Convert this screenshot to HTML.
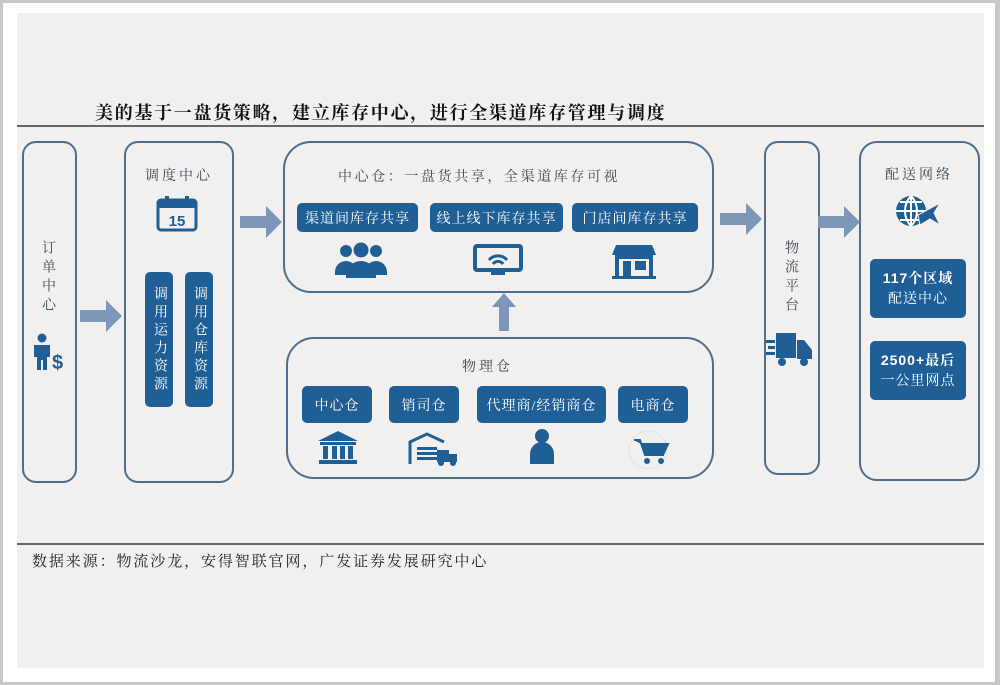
<!DOCTYPE html>
<html><head><meta charset="utf-8"><style>
*{margin:0;padding:0;box-sizing:border-box}
body{width:1000px;height:685px;background:#fff;position:relative;overflow:hidden;font-family:"Liberation Serif","Noto Serif CJK SC",serif}
.frame{position:absolute;left:0;top:0;width:1000px;height:685px;border:3px solid #c8c8c8;border-right-width:5px}
.panel{position:absolute;left:17px;top:13px;width:967px;height:655px;background:#f1f0ee}
.a{position:absolute}
.box{position:absolute;border:2px solid #4f6d8d;border-radius:14px}
.btn{position:absolute;background:#1f5f96;color:#fff;border-radius:5px;font-size:14px;display:flex;align-items:center;justify-content:center;font-weight:bold;letter-spacing:1px}
.v{writing-mode:vertical-rl;letter-spacing:4px}
.t{position:absolute;color:#3a4a5c;font-size:14px;letter-spacing:2px}
</style></head><body>
<div class="frame"></div>
<div class="panel"></div>
<div class="t" style="left:95px;top:99px;font-size:18px;font-weight:bold;color:#111;letter-spacing:1.7px">美的基于一盘货策略，建立库存中心，进行全渠道库存管理与调度</div>
<div class="a" style="left:17px;top:125px;width:967px;height:2px;background:#666"></div>
<div class="a" style="left:17px;top:543px;width:967px;height:2px;background:#666"></div>
<div class="t" style="left:32px;top:550px;color:#222;font-size:15px;letter-spacing:1.9px">数据来源：物流沙龙，安得智联官网，广发证券发展研究中心</div>

<div class="box" style="left:22px;top:141px;width:55px;height:342px"></div>
<div class="t v" style="left:37px;top:240px;letter-spacing:5px">订单中心</div>
<svg class="a" style="left:30px;top:333px" width="40" height="40"><circle cx="12" cy="5" r="4.5" fill="#1f5f96"/><path d="M4 12h16v12h-3v13h-4v-10h-2v10h-4V24H4z" fill="#1f5f96"/><text x="22" y="36" font-size="20" font-weight="bold" fill="#1f5f96" font-family="Liberation Sans">$</text></svg>

<div class="box" style="left:124px;top:141px;width:110px;height:342px"></div>
<div class="t" style="left:145px;top:165px;letter-spacing:3px">调度中心</div>
<svg class="a" style="left:156px;top:195px" width="42" height="38"><rect x="2" y="5" width="38" height="30" rx="3" fill="none" stroke="#1f5f96" stroke-width="3"/><rect x="2" y="5" width="38" height="8" fill="#1f5f96"/><rect x="9" y="1" width="4" height="8" fill="#1f5f96"/><rect x="29" y="1" width="4" height="8" fill="#1f5f96"/><text x="21" y="31" font-size="15" font-weight="bold" fill="#1f5f96" text-anchor="middle" font-family="Liberation Sans">15</text></svg>
<div class="btn v" style="left:145px;top:272px;width:28px;height:135px;font-weight:normal;letter-spacing:4px">调用运力资源</div>
<div class="btn v" style="left:185px;top:272px;width:28px;height:135px;font-weight:normal;letter-spacing:4px">调用仓库资源</div>

<div class="box" style="left:283px;top:141px;width:431px;height:152px;border-radius:28px"></div>
<div class="t" style="left:338px;top:166px;letter-spacing:2.6px">中心仓：一盘货共享，全渠道库存可视</div>
<div class="btn" style="left:297px;top:203px;width:121px;height:29px;font-weight:normal">渠道间库存共享</div>
<div class="btn" style="left:430px;top:203px;width:133px;height:29px;font-weight:normal">线上线下库存共享</div>
<div class="btn" style="left:572px;top:203px;width:126px;height:29px;font-weight:normal">门店间库存共享</div>
<svg class="a" style="left:335px;top:242px" width="52" height="36" fill="#1f5f96"><circle cx="11" cy="9" r="6"/><circle cx="41" cy="9" r="6"/><circle cx="26" cy="8" r="7.5"/><path d="M0 30a11 11 0 0 1 22 0v3H0zM30 30a11 11 0 0 1 22 0v3H30zM11 34a15 15 0 0 1 30 0v2H11z"/></svg>
<svg class="a" style="left:473px;top:244px" width="50" height="34"><rect x="2" y="2" width="46" height="24" rx="2" fill="none" stroke="#1f5f96" stroke-width="4"/><rect x="18" y="27" width="14" height="4" fill="#1f5f96"/><path d="M16 16a12 12 0 0 1 18 0M20 20a6 6 0 0 1 10 0" stroke="#1f5f96" stroke-width="3" fill="none"/></svg>
<svg class="a" style="left:612px;top:243px" width="44" height="36" fill="#1f5f96"><path d="M4 2h36l4 10H0z"/><rect x="3" y="12" width="38" height="4"/><rect x="3" y="16" width="4" height="18"/><rect x="37" y="16" width="4" height="18"/><rect x="11" y="18" width="8" height="16"/><rect x="23" y="18" width="11" height="9"/><rect x="0" y="33" width="44" height="3"/></svg>

<svg class="a" style="left:492px;top:293px" width="24" height="38"><path d="M12 0L24 14H17V38H7V14H0z" fill="#7c97b7"/></svg>

<div class="box" style="left:286px;top:337px;width:428px;height:142px;border-radius:28px"></div>
<div class="t" style="left:462px;top:356px;letter-spacing:3px">物理仓</div>
<div class="btn" style="left:302px;top:386px;width:70px;height:37px;font-weight:normal">中心仓</div>
<div class="btn" style="left:389px;top:386px;width:70px;height:37px;font-weight:normal">销司仓</div>
<div class="btn" style="left:477px;top:386px;width:129px;height:37px;font-weight:normal">代理商/经销商仓</div>
<div class="btn" style="left:618px;top:386px;width:70px;height:37px;font-weight:normal">电商仓</div>
<svg class="a" style="left:318px;top:431px" width="40" height="34" fill="#1f5f96"><path d="M20 0L40 10H0z"/><rect x="2" y="11" width="36" height="3"/><rect x="5" y="15" width="5" height="13"/><rect x="14" y="15" width="5" height="13"/><rect x="22" y="15" width="5" height="13"/><rect x="30" y="15" width="5" height="13"/><rect x="1" y="29" width="38" height="4"/></svg>
<svg class="a" style="left:407px;top:432px" width="52" height="36"><path d="M3 32V10L20 2l17 8" stroke="#1f5f96" stroke-width="3" fill="none"/><g fill="#1f5f96"><rect x="10" y="15" width="20" height="3"/><rect x="10" y="20" width="20" height="3"/><rect x="10" y="25" width="20" height="3"/><rect x="30" y="18" width="12" height="12"/><rect x="42" y="22" width="8" height="8"/><circle cx="34" cy="31" r="3"/><circle cx="46" cy="31" r="3"/></g></svg>
<svg class="a" style="left:528px;top:428px" width="28" height="38" fill="#1f5f96"><circle cx="14" cy="8" r="7"/><path d="M2 26a12 12 0 0 1 24 0v10H2z"/></svg>
<svg class="a" style="left:628px;top:430px" width="44" height="40"><circle cx="20" cy="20" r="19" fill="none" stroke="#e2e2e2"/><path d="M6 10h6l5 15h18l5-11H13" fill="#1f5f96" stroke="#1f5f96" stroke-width="2"/><circle cx="19" cy="31" r="3" fill="#1f5f96"/><circle cx="33" cy="31" r="3" fill="#1f5f96"/></svg>

<div class="box" style="left:764px;top:141px;width:56px;height:334px"></div>
<div class="t v" style="left:780px;top:240px;letter-spacing:5px">物流平台</div>
<svg class="a" style="left:766px;top:330px" width="48" height="40" fill="#1f5f96"><rect x="10" y="3" width="20" height="25"/><path d="M31 10h7l8 10v9H31z"/><circle cx="16" cy="32" r="4"/><circle cx="38" cy="32" r="4"/><rect x="0" y="10" width="9" height="3"/><rect x="2" y="16" width="7" height="3"/><rect x="0" y="22" width="9" height="3"/></svg>

<div class="box" style="left:859px;top:141px;width:121px;height:340px;border-radius:18px"></div>
<div class="t" style="left:885px;top:164px;letter-spacing:3px">配送网络</div>
<svg class="a" style="left:894px;top:193px" width="50" height="40"><circle cx="17" cy="18" r="15" fill="#1f5f96"/><path d="M2 18h30M17 3v30M6 9h22M6 27h22M17 3c-8 8-8 22 0 30M17 3c8 8 8 22 0 30" stroke="#fff" stroke-width="2" fill="none"/><path d="M24 22l22-12-6 10 6 12-10-6-10 6z" fill="#1f5f96" stroke="#f1f0ee" stroke-width="1"/></svg>
<div class="btn" style="left:870px;top:259px;width:96px;height:59px;flex-direction:column;line-height:20px;font-size:14px"><div><span style="font-family:'Liberation Sans'">117</span>个区域</div><div style="font-weight:normal">配送中心</div></div>
<div class="btn" style="left:870px;top:341px;width:96px;height:59px;flex-direction:column;line-height:20px;font-size:14px"><div><span style="font-family:'Liberation Sans'">2500+</span>最后</div><div style="font-weight:normal">一公里网点</div></div>

<svg class="a" style="left:80px;top:300px" width="42" height="32"><path d="M0 10H26V0L42 16 26 32V22H0z" fill="#7c97b7"/></svg>
<svg class="a" style="left:240px;top:206px" width="42" height="32"><path d="M0 10H26V0L42 16 26 32V22H0z" fill="#7c97b7"/></svg>
<svg class="a" style="left:720px;top:203px" width="42" height="32"><path d="M0 10H26V0L42 16 26 32V22H0z" fill="#7c97b7"/></svg>
<svg class="a" style="left:818px;top:206px" width="42" height="32"><path d="M0 10H26V0L42 16 26 32V22H0z" fill="#7c97b7"/></svg>
</body></html>
